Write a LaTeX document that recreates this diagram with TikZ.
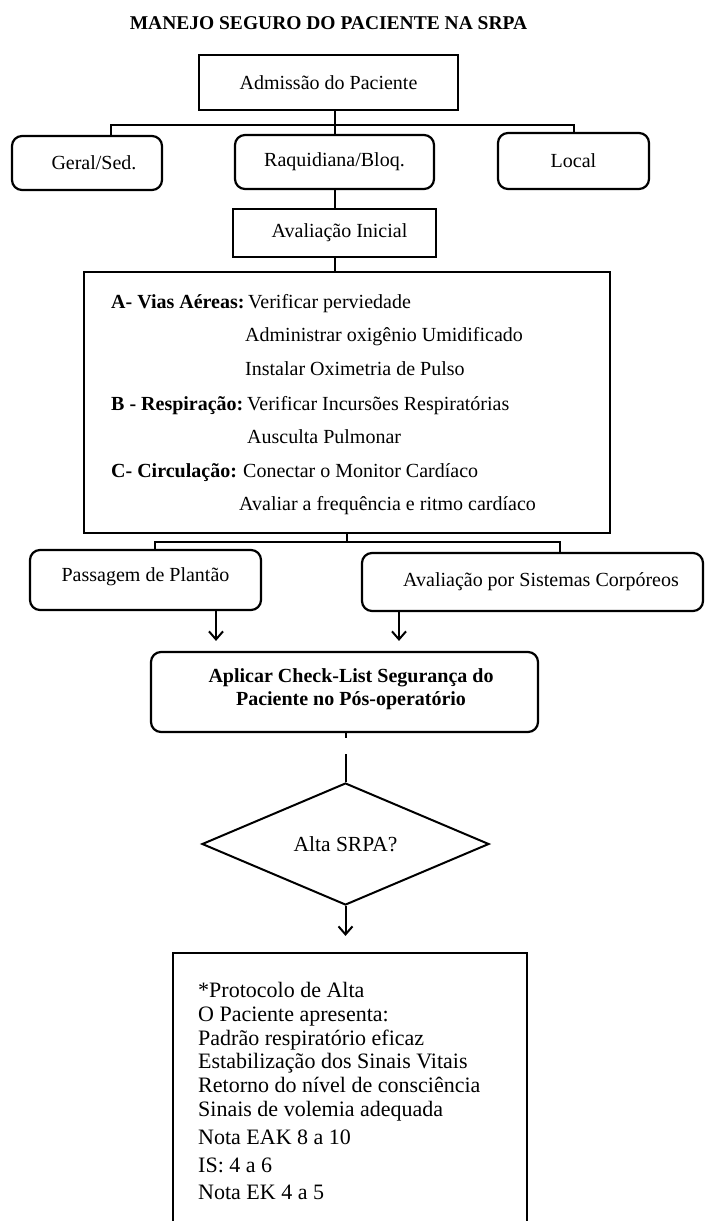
\documentclass[tikz,border=0pt]{standalone}
\usepackage{fontspec}
\setmainfont{Liberation Serif}
\usetikzlibrary{arrows.meta,shapes.geometric}

\tikzset{
  sqbox/.style={draw, line width=2.2pt, inner sep=0pt},
  rbox/.style={sqbox, rounded corners=10pt},
  link/.style={line width=2pt},
  arr/.style={link, -{Straight Barb[length=8pt,width=14pt]}},
  txt/.style={anchor=base west, inner sep=0pt},
  boldtxt/.style={txt, font=\fontsize{20}{24}\selectfont\bfseries},
  bigtxt/.style={txt, font=\fontsize{22}{24}\selectfont},
}

\begin{document}
\begin{tikzpicture}[x=1pt,y=-1pt,font=\fontsize{20}{24}\selectfont]
\useasboundingbox (0,0) rectangle (705,1221);
\clip (0,0) rectangle (705,1221);

% titulo
\node[anchor=base,inner sep=0pt,font=\fontsize{19.5}{24}\selectfont\bfseries] (title) at (328.5,29) {MANEJO SEGURO DO PACIENTE NA SRPA};

% admissao e tipos de anestesia
\node[sqbox,minimum width=259pt,minimum height=55pt] (adm) at (328.5,82.5) {Admissão do Paciente};
\node[rbox,minimum width=150pt,minimum height=54pt] (geral) at (87,163) {\hspace*{14pt}Geral/Sed.};
\node[rbox,minimum width=199pt,minimum height=54pt] (raq) at (334.5,162) {Raquidiana/Bloq.};
\node[rbox,minimum width=151pt,minimum height=56pt] (local) at (573.5,161) {Local};

\coordinate (busA) at (334.5,125);
\draw[link] (raq.north |- adm.south) -- (raq.north);
\draw[link] ([xshift=24pt]geral.north) |- (busA) -| (local.north);

% avaliacao inicial
\node[sqbox,minimum width=203pt,minimum height=48pt] (inicial) at (334.5,233) {\hspace*{10pt}Avaliação Inicial};
\draw[link] (raq) -- (inicial);

\node[sqbox,minimum width=526pt,minimum height=261pt] (vias) at (347,402.5) {};
\draw[link] (inicial.south) -- (inicial.south |- vias.north);

\node[boldtxt] (la) at (111,308) {A- Vias Aéreas:};
\node[txt] (a1) at (248,308) {Verificar perviedade};
\node[txt] (a2) at (245,341) {Administrar oxigênio Umidificado};
\node[txt] (a3) at (245,375) {Instalar Oximetria de Pulso};
\node[boldtxt] (lb) at (111,410) {B - Respiração:};
\node[txt] (b1) at (247,410) {Verificar Incursões Respiratórias};
\node[txt] (b2) at (247,443) {Ausculta Pulmonar};
\node[boldtxt] (lc) at (111,477) {C- Circulação:};
\node[txt] (c1) at (243,477) {Conectar o Monitor Cardíaco};
\node[txt] (c2) at (239,510) {Avaliar a frequência e ritmo cardíaco};

% passagem e sistemas
\node[rbox,minimum width=231pt,minimum height=60pt] (passagem) at (145.5,580) {};
\node[anchor=base,inner sep=0pt] (passtxt) at (passagem.center |- 0,581) {Passagem de Plantão};
\node[rbox,minimum width=341pt,minimum height=58pt] (sistemas) at (532.5,582) {};
\node[anchor=base,inner sep=0pt] (sistxt) at (541,586) {Avaliação por Sistemas Corpóreos};

\coordinate (busB) at (347,542);
\draw[link] (vias.south -| busB) -- (busB);
\draw[link] ([xshift=9.5pt]passagem.north) |- (busB) -| ([xshift=27.5pt]sistemas.north);

% checklist
\node[rbox,minimum width=387pt,minimum height=80pt] (check) at (344.5,692) {};
\node[anchor=base,inner sep=0pt,font=\fontsize{20}{24}\selectfont\bfseries] (chk1) at (351,682) {Aplicar Check-List Segurança do};
\node[anchor=base,inner sep=0pt,font=\fontsize{20}{24}\selectfont\bfseries] (chk2) at (351,705) {Paciente no Pós-operatório};

\coordinate (pl) at ([xshift=70.5pt]passagem.south);
\coordinate (sl) at ([xshift=-133.5pt]sistemas.south);
\draw[arr,shorten >=10pt] (pl) -- (pl |- check.north);
\draw[arr,shorten >=10pt] (sl) -- (sl |- check.north);

% decisao
\node[draw,diamond,line width=2pt,inner sep=0pt,aspect=2.35,minimum width=287pt,minimum height=122pt,font=\fontsize{21.5}{24}\selectfont] (alta) at (345.5,844) {Alta SRPA?};
\draw[link,dash pattern=on 5pt off 16pt on 40pt] (check.south -| alta.north) -- (alta.north);

% protocolo de alta
\node[sqbox,minimum width=354pt,minimum height=287pt] (protocolo) at (350,1096.5) {};
\draw[arr,shorten >=16pt] (alta.south) -- (protocolo.north -| alta.south);

\node[bigtxt] (p1) at (198,997) {*Protocolo de Alta};
\node[bigtxt] (p2) at (198,1021) {O Paciente apresenta:};
\node[bigtxt] (p3) at (198,1045) {Padrão respiratório eficaz};
\node[bigtxt] (p4) at (198,1068) {Estabilização dos Sinais Vitais};
\node[bigtxt] (p5) at (198,1092) {Retorno do nível de consciência};
\node[bigtxt] (p6) at (198,1116) {Sinais de volemia adequada};
\node[bigtxt] (p7) at (198,1144) {Nota EAK 8 a 10};
\node[bigtxt] (p8) at (198,1172) {IS: 4 a 6};
\node[bigtxt] (p9) at (198,1199) {Nota EK 4 a 5};
\end{tikzpicture}
\end{document}
